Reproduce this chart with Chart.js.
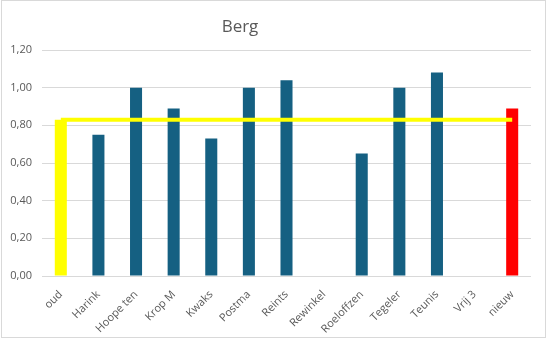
<!DOCTYPE html>
<html>
<head>
<meta charset="utf-8">
<script src="https://cdn.jsdelivr.net/npm/chart.js@4"></script>
<style>
  html, body { margin: 0; padding: 0; background: #fff; }
  #wrap { position: relative; width: 547px; height: 340px; }
  #frame { position: absolute; left: 1px; top: 0; width: 543px; height: 336px; border: 1px solid #d9d9d9; pointer-events: none; }
</style>
</head>
<body>
<div id="wrap">
  <canvas id="c" width="547" height="340"></canvas>
  <div id="frame"></div>
</div>
<script>
const chartTitle = 'Berg';
const categories = ['oud', 'Harink', 'Hoope ten', 'Krop M', 'Kwaks', 'Postma', 'Reints', 'Rewinkel', 'Roeloffzen', 'Tegeler', 'Teunis', 'Vrij 3', 'nieuw'];
const scores = [0.83, 0.75, 1.00, 0.89, 0.73, 1.00, 1.04, null, 0.65, 1.00, 1.08, null, 0.89];
const reference = [0.83, 0.83, 0.83, 0.83, 0.83, 0.83, 0.83, 0.83, 0.83, 0.83, 0.83, 0.83, 0.83];
const yTicks = [0, 0.2, 0.4, 0.6, 0.8, 1.0, 1.2];

const barColors = categories.map((c, i) =>
  i === 0 ? '#FFFF00' : (i === categories.length - 1 ? '#FF0000' : '#156082'));

const FONT = '"Open Sans", "Noto Sans", sans-serif';

// Title drawn centred over the plot column
const titlePlugin = {
  id: 'titleText',
  afterDraw(chart) {
    const ctx = chart.ctx;
    ctx.save();
    ctx.font = '17px ' + FONT;
    ctx.fillStyle = '#595959';
    ctx.textAlign = 'center';
    ctx.textBaseline = 'alphabetic';
    ctx.fillText(chartTitle, 240, 32);
    ctx.restore();
  }
};

new Chart(document.getElementById('c'), {
  data: {
    labels: categories,
    datasets: [
      {
        type: 'line',
        data: reference,
        borderColor: '#FFFF00',
        borderWidth: 4,
        pointRadius: 0,
        fill: false,
        order: 0
      },
      {
        type: 'bar',
        data: scores,
        backgroundColor: barColors,
        barPercentage: 0.32,
        categoryPercentage: 1.0,
        order: 1
      }
    ]
  },
  options: {
    responsive: false,
    animation: false,
    devicePixelRatio: 1,
    layout: { padding: { top: 50, right: 16, left: 0, bottom: 0 } },
    plugins: { legend: { display: false }, tooltip: { enabled: false }, title: { display: false } },
    scales: {
      x: {
        grid: { display: false },
        border: { display: false },
        ticks: {
          color: '#595959',
          font: { family: FONT, size: 11 },
          minRotation: 45,
          maxRotation: 45,
          padding: 4
        },
        afterFit(scale) { scale.height = 64; }
      },
      y: {
        min: 0,
        max: 1.2,
        afterBuildTicks(scale) { scale.ticks = yTicks.map(v => ({ value: v })); },
        grid: { color: '#d9d9d9', lineWidth: 1, drawTicks: false },
        border: { display: false },
        ticks: {
          color: '#595959',
          font: { family: FONT, size: 11 },
          padding: 10,
          callback: v => v.toFixed(2).replace('.', ',')
        },
        afterFit(scale) { scale.width = 42; }
      }
    }
  },
  plugins: [titlePlugin]
});
</script>
</body>
</html>
